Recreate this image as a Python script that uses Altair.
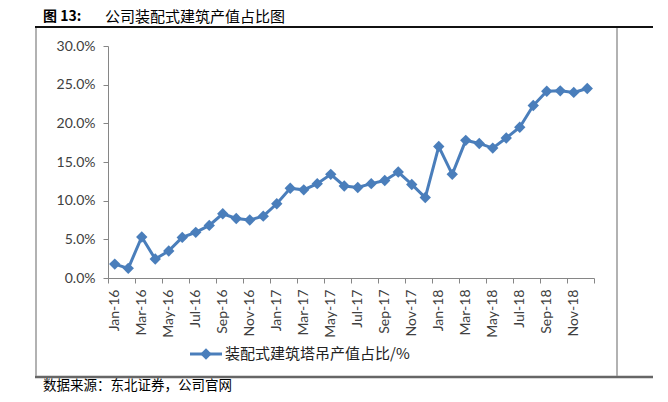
import altair as alt
import pandas as pd

months = ["Jan-16", "Feb-16", "Mar-16", "Apr-16", "May-16", "Jun-16", "Jul-16", "Aug-16", "Sep-16",
          "Oct-16", "Nov-16", "Dec-16", "Jan-17", "Feb-17", "Mar-17", "Apr-17", "May-17", "Jun-17",
          "Jul-17", "Aug-17", "Sep-17", "Oct-17", "Nov-17", "Dec-17", "Jan-18", "Feb-18", "Mar-18",
          "Apr-18", "May-18", "Jun-18", "Jul-18", "Aug-18", "Sep-18", "Oct-18", "Nov-18", "Dec-18"]
share = [0.018, 0.0125, 0.053, 0.0245, 0.035, 0.0525, 0.059, 0.068, 0.083,
         0.077, 0.075, 0.080, 0.096, 0.116, 0.114, 0.122, 0.134, 0.119,
         0.117, 0.122, 0.126, 0.137, 0.121, 0.104, 0.170, 0.134, 0.178,
         0.174, 0.168, 0.181, 0.195, 0.223, 0.2415, 0.242, 0.240, 0.245]
y_ticks = [0.0, 0.05, 0.10, 0.15, 0.20, 0.25, 0.30]
series_name = "装配式建筑塔吊产值占比/%"
title_prefix = "图  13:"
title_text = "公司装配式建筑产值占比图"
source_text = "数据来源：东北证券，公司官网"

df = pd.DataFrame({"i": list(range(len(months))), "month": months, "v": share})
one = pd.DataFrame({"k": [0]})

BLUE = "#4A7EBB"
AXC = "#868686"
NUM_FONT = "Lato"
CJK = "Noto Sans CJK SC"
LBL = "#404040"

label_arr = "[" + ",".join("'%s'" % m for m in months) + "]"
n = len(months)
tick_vals = [k - 0.5 for k in range(0, n + 1, 2)]
label_vals = list(range(0, n, 2))

xscale = alt.Scale(domain=[-0.5, n - 0.5], nice=False, zero=False)
yscale = alt.Scale(domain=[0, 0.3], nice=False)

y_enc = alt.Y("v:Q", scale=yscale, title=None,
              axis=alt.Axis(values=y_ticks, format=".1%", grid=False, tickSize=5, tickColor=AXC,
                            domainColor=AXC, labelFont=NUM_FONT, labelFontSize=14,
                            labelColor=LBL, labelPadding=8))

line = alt.Chart(df).mark_line(
    color=BLUE, strokeWidth=3,
    point=alt.OverlayMarkDef(shape="diamond", size=130, filled=True, color=BLUE, opacity=1)
).encode(
    x=alt.X("i:Q", scale=xscale, title=None,
            axis=alt.Axis(orient="bottom", values=tick_vals, labels=False, ticks=True, tickSize=5,
                          tickColor=AXC, domainColor=AXC, grid=False)),
    y=y_enc,
)

labels_layer = alt.Chart(df).mark_line(opacity=0).encode(
    x=alt.X("i:Q", scale=xscale, title=None,
            axis=alt.Axis(orient="bottom", values=label_vals, labelExpr=label_arr + "[datum.value]",
                          labelAngle=-90, ticks=False, tickSize=0, domain=False, grid=False,
                          labelFont=NUM_FONT, labelFontSize=14, labelColor=LBL,
                          labelPadding=11)),
    y=y_enc,
)

# frame lines
top_rule = alt.Chart(one).mark_rule(color="#111111", strokeWidth=2).encode(
    x=alt.value(-73), x2=alt.value(545), y=alt.value(-19))
bottom_rule = alt.Chart(one).mark_rule(color="#666666", strokeWidth=2.5).encode(
    x=alt.value(-73), x2=alt.value(545), y=alt.value(331))
left_rule = alt.Chart(one).mark_rule(color="#999999", strokeWidth=1.5).encode(
    x=alt.value(-72), y=alt.value(-18), y2=alt.value(330))
right_rule = alt.Chart(one).mark_rule(color="#999999", strokeWidth=1.5).encode(
    x=alt.value(509), y=alt.value(-18), y2=alt.value(330))

# title and source
t1 = alt.Chart(one).mark_text(text=title_prefix, font=CJK, fontSize=14, fontWeight="bold",
                              align="left", baseline="middle", color="#000000").encode(
    x=alt.value(-65), y=alt.value(-29))
t2 = alt.Chart(one).mark_text(text=title_text, font=CJK, fontSize=15, align="left",
                              baseline="middle", color="#000000").encode(
    x=alt.value(-3), y=alt.value(-29))
src = alt.Chart(one).mark_text(text=source_text, font=CJK, fontSize=13.5, align="left",
                               baseline="middle", color="#000000").encode(
    x=alt.value(-65), y=alt.value(340))

# legend
leg_line = alt.Chart(one).mark_rule(color=BLUE, strokeWidth=3).encode(
    x=alt.value(82), x2=alt.value(114), y=alt.value(308))
leg_pt = alt.Chart(one).mark_point(shape="diamond", size=130, filled=True, color=BLUE, opacity=1).encode(
    x=alt.value(98), y=alt.value(308))
leg_txt = alt.Chart(one).mark_text(text=series_name, font=CJK, fontSize=15, align="left",
                                   baseline="middle", color="#222222").encode(
    x=alt.value(117), y=alt.value(308))

chart = alt.layer(
    line, labels_layer, top_rule, bottom_rule, left_rule, right_rule, t1, t2, src,
    leg_line, leg_pt, leg_txt
).resolve_axis(x="independent").properties(
    width=486, height=232,
    autosize=alt.AutoSizeParams(type="none"),
    padding={"left": 100, "top": 38, "right": 66, "bottom": 116},
    background="white",
).configure_view(stroke=None)

chart.save("out.html", embed_options={"renderer": "svg", "actions": False})
